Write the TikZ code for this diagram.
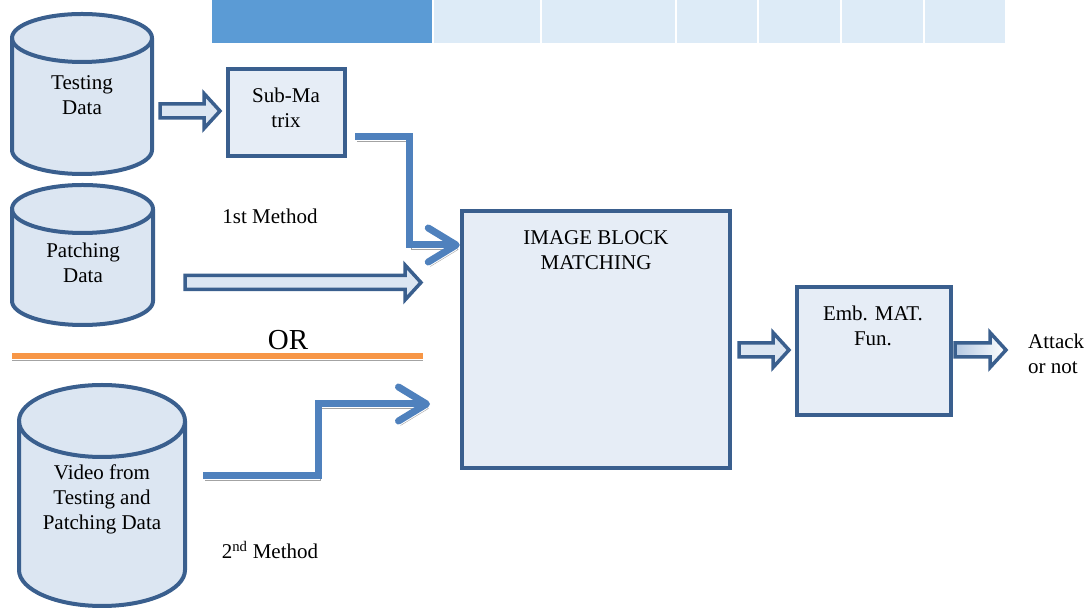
\documentclass[tikz,border=0pt]{standalone}
\usepackage{fontspec}
\setmainfont{Liberation Serif}
\newfontfamily\labelface{Liberation Serif}
\usetikzlibrary{arrows.meta,calc}

\definecolor{edge}{HTML}{3A5F8E}
\definecolor{boxfill}{HTML}{E6EDF6}
\definecolor{cylfill}{HTML}{DCE6F2}
\definecolor{arrowfill}{HTML}{DCE6F2}
\definecolor{flowblue}{HTML}{4F81BD}
\definecolor{shadowgray}{HTML}{A3A3A3}
\definecolor{orangeline}{HTML}{F79646}
\definecolor{headdark}{HTML}{5B9BD5}
\definecolor{headlight}{HTML}{DDEBF7}
\definecolor{gradstart}{HTML}{B4C8E2}

% database cylinder: #1 name, #2 left, #3 right, #4 top, #5 bottom, #6 end radius
\newcommand{\dbcylinder}[6]{%
  \pgfmathsetmacro\cylrx{(#3-#2)/2}
  \draw[cylbody] (#2,#4-#6) -- (#2,#5+#6)
    arc[start angle=180,end angle=360,x radius=\cylrx,y radius=#6]
    -- (#3,#4-#6)
    arc[start angle=0,end angle=180,x radius=\cylrx,y radius=#6] -- cycle;
  \draw[cylbody,fill=none] (#2,#4-#6)
    arc[start angle=180,end angle=360,x radius=\cylrx,y radius=#6];
  \node[inner sep=0pt,minimum width={(#3-#2)*1pt},minimum height={(#4-#5)*1pt}]
    (#1) at ({(#2+#3)/2},{(#4+#5)/2}) {};
}

\tikzset{
  cylbody/.style={draw=edge,line width=4pt,fill=cylfill},
  box/.style={rectangle,draw=edge,line width=4.5pt,fill=boxfill,inner sep=0pt},
  txt/.style={font=\labelface\fontsize{21}{25}\selectfont,align=center,inner sep=0pt},
  flow/.style={draw=flowblue,line width=7pt,
    -{Straight Barb[length=28pt,width=34pt,round]},
    preaction={draw=shadowgray,transform canvas={shift={(2pt,-4.5pt)}}}},
  hollow/.style={draw=edge,line width=3.5pt,fill=arrowfill,miter limit=4,
    to path={let \p1=(\tikztostart), \p2=(\tikztotarget) in
      (\x1,\y1+7pt) -- (\x2-16pt,\y1+7pt) -- (\x2-16pt,\y1+17.5pt)
      -- (\x2,\y1) -- (\x2-16pt,\y1-17.5pt) -- (\x2-16pt,\y1-7pt)
      -- (\x1,\y1-7pt) -- cycle}},
}

\begin{document}
\begin{tikzpicture}[x=1pt,y=1pt]
\path[use as bounding box] (0,0) rectangle (1087,610);

% header strip
\fill[headdark]  (212,567) rectangle (432,610);
\fill[headlight] (434,567) rectangle (540,610);
\fill[headlight] (542,567) rectangle (675,610);
\fill[headlight] (677,567) rectangle (757,610);
\fill[headlight] (759,567) rectangle (840,610);
\fill[headlight] (842,567) rectangle (923,610);
\fill[headlight] (925,567) rectangle (1005,610);

% data sources
\dbcylinder{tdata}{12}{152}{596}{436}{24}
\node[txt] (tdtext) at (82,515) {Testing\\Data};
\dbcylinder{pdata}{12}{153}{425}{285}{24}
\node[txt] (pdtext) at (83,347) {Patching\\Data};
\dbcylinder{vdata}{19}{185}{225}{4}{36}
\node[txt] (vdtext) at (102,111) {Video from\\Testing and\\Patching Data};

% processing blocks
\node[box,minimum width=117pt,minimum height=87pt] (sub) at (286.5,497.5) {};
\node[txt] (subtext) at (286,502) {Sub-Ma\\trix};
\node[box,minimum width=268pt,minimum height=257pt] (img) at (596,270.5) {};
\node[txt] (imgtext) at (596,360) {IMAGE BLOCK\\MATCHING};
\node[box,minimum width=154pt,minimum height=128pt] (emb) at (874,259) {};
\node[txt] (embtext) at (873,284) {Emb. MAT.\\Fun.};

% labels
\node[txt] (m1) at (270,394) {1st Method};
\node[txt] (m2) at (270,60) {2\textsuperscript{nd} Method};
\node[txt,align=left,anchor=west] (out) at (1028,256) {Attack\\or not};
\node[font=\labelface\fontsize{29}{33}\selectfont,inner sep=0pt] (ortext) at (288,270) {OR};

% separator between the two methods
\coordinate (sepl) at (12,254);
\coordinate (sepr) at (423,254);
\draw[orangeline,line width=6pt,
  preaction={draw=shadowgray,transform canvas={shift={(0pt,-4pt)}}}] (sepl) -- (sepr);

% hollow block arrows
\coordinate (a1s) at (160,499);   \coordinate (a1e) at (220,499);
\coordinate (a2s) at (185,327.5); \coordinate (a2e) at (421,327.5);
\coordinate (a3s) at (739,260);   \coordinate (a3e) at (789,260);
\coordinate (a4s) at (955,260);   \coordinate (a4e) at (1006,260);
\draw[hollow] (a1s) to (a1e);
\draw[hollow] (a2s) to (a2e);
\draw[hollow] (a3s) to (a3e);
\draw[hollow,left color=gradstart,right color=white] (a4s) to (a4e);

% first method flow
\coordinate (e1s) at (355,473.5);
\draw[flow] (e1s) -- (409,473.5) -- (409,365) -- (img.west |- 0,365);

% second method flow
\coordinate (e2s) at (203,134.5);
\coordinate (e2e) at (430,206);
\draw[flow] (e2s) -- (318,134.5) -- (318,206) -- (e2e);
\end{tikzpicture}
\end{document}
